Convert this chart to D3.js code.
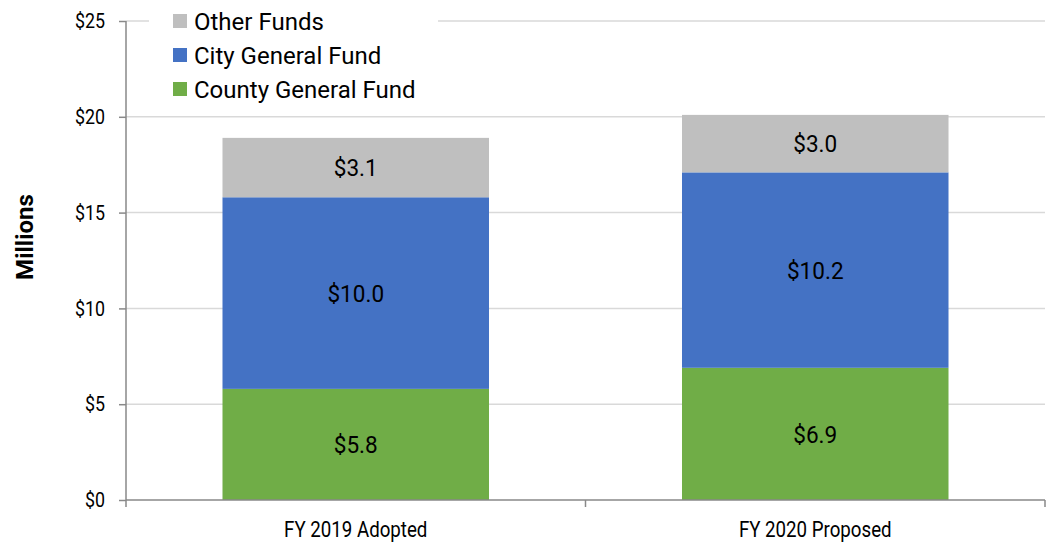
<!DOCTYPE html>
<html>
<head>
<meta charset="utf-8">
<script src="https://cdn.jsdelivr.net/npm/d3@7"></script>
<style>
  body { margin: 0; background: #fff; }
  text { font-family: Roboto, "Liberation Sans", sans-serif; }
</style>
</head>
<body>
<div id="chart"></div>
<script>
// 数据
const categories = ['FY 2019 Adopted', 'FY 2020 Proposed'];
const seriesNames = ['County General Fund', 'City General Fund', 'Other Funds'];
const countyGeneral = [5.8, 6.9];
const cityGeneral = [10.0, 10.2];
const otherFunds = [3.1, 3.0];
const yTicks = [0, 5, 10, 15, 20, 25];
const colors = ['#70ad47', '#4472c4', '#bfbfbf'];

const width = 1047, height = 542;
const margin = { top: 21, right: 2, bottom: 42, left: 126 };
const narrow = 0.85; // 字体压窄

const svg = d3.select('#chart').append('svg')
    .attr('width', width)
    .attr('height', height);

const xScale = d3.scaleBand()
    .domain(categories)
    .range([margin.left, width - margin.right])
    .paddingInner(0.42)
    .paddingOuter(0.21);
const yScale = d3.scaleLinear()
    .domain([0, 25])
    .range([height - margin.bottom, margin.top]);

// 网格线
svg.append('g')
    .selectAll('line')
    .data(yTicks.filter(d => d > 0))
    .join('line')
    .attr('x1', margin.left)
    .attr('x2', width - margin.right)
    .attr('y1', d => yScale(d))
    .attr('y2', d => yScale(d))
    .attr('stroke', '#d9d9d9')
    .attr('stroke-width', 1.5);

// 堆叠数据
const rows = categories.map((c, i) => ({
    cat: c,
    'County General Fund': countyGeneral[i],
    'City General Fund': cityGeneral[i],
    'Other Funds': otherFunds[i]
}));
const stacked = d3.stack().keys(seriesNames)(rows);

const layers = svg.append('g')
    .selectAll('g')
    .data(stacked)
    .join('g')
    .attr('fill', (d, i) => colors[i]);

layers.selectAll('rect')
    .data(d => d)
    .join('rect')
    .attr('x', d => xScale(d.data.cat))
    .attr('width', xScale.bandwidth())
    .attr('y', d => yScale(d[1]))
    .attr('height', d => yScale(d[0]) - yScale(d[1]));

layers.selectAll('text')
    .data(d => d)
    .join('text')
    .attr('transform', d => `translate(${xScale(d.data.cat) + xScale.bandwidth() / 2},${(yScale(d[0]) + yScale(d[1])) / 2}) scale(0.94,1)`)
    .attr('dy', '0.36em')
    .attr('text-anchor', 'middle')
    .attr('fill', '#000')
    .style('font-size', '24px')
    .text(d => '$' + (d[1] - d[0]).toFixed(1));

// 坐标轴
const yAxis = d3.axisLeft(yScale)
    .tickValues(yTicks)
    .tickSize(7)
    .tickPadding(14)
    .tickFormat(d => '$' + d);
const yG = svg.append('g')
    .attr('transform', `translate(${margin.left},0)`)
    .call(yAxis);
yG.select('.domain').attr('stroke', '#898989').attr('stroke-width', 1.5)
    .attr('d', `M0,${yScale(25)}V${yScale(0)}`);
yG.selectAll('.tick line').attr('stroke', '#898989').attr('stroke-width', 1.5);
yG.selectAll('.tick text')
    .style('font-size', '21px')
    .attr('fill', '#000')
    .attr('x', -21 / narrow)
    .attr('transform', `scale(${narrow},1)`);

// x轴
const xG = svg.append('g')
    .attr('transform', `translate(0,${yScale(0)})`);
xG.append('line')
    .attr('x1', margin.left).attr('x2', width - margin.right)
    .attr('stroke', '#898989').attr('stroke-width', 1.5);
const step = xScale.step();
const bounds = [0, 1, 2].map(i => margin.left + xScale.paddingOuter() * step - xScale.paddingInner() * step / 2 + i * step);
xG.selectAll('.xtick')
    .data(bounds)
    .join('line')
    .attr('x1', d => d).attr('x2', d => d)
    .attr('y1', 0).attr('y2', 7)
    .attr('stroke', '#898989').attr('stroke-width', 1.5);
xG.selectAll('.xlabel')
    .data(categories)
    .join('text')
    .attr('transform', d => `translate(${xScale(d) + xScale.bandwidth() / 2},37) scale(${narrow},1)`)
    .attr('text-anchor', 'middle')
    .style('font-size', '22px')
    .text(d => d);

// Y轴标题
svg.append('text')
    .attr('transform', `translate(33,237) rotate(-90)`)
    .attr('text-anchor', 'middle')
    .style('font-size', '24px')
    .style('font-weight', 'bold')
    .text('Millions');

// 图例
const legend = svg.append('g');
legend.append('rect')
    .attr('x', 149).attr('y', 4)
    .attr('width', 289).attr('height', 100)
    .attr('fill', '#fff');
const legendItems = seriesNames.slice().reverse();
const legendColors = colors.slice().reverse();
const li = legend.selectAll('.li')
    .data(legendItems)
    .join('g')
    .attr('transform', (d, i) => `translate(173,${21 + i * 34})`);
li.append('rect')
    .attr('x', 0).attr('y', -7)
    .attr('width', 14).attr('height', 14)
    .attr('fill', (d, i) => legendColors[i]);
li.append('text')
    .attr('x', 21)
    .attr('dy', '0.36em')
    .style('font-size', '24px')
    .text(d => d);
</script>
</body>
</html>
